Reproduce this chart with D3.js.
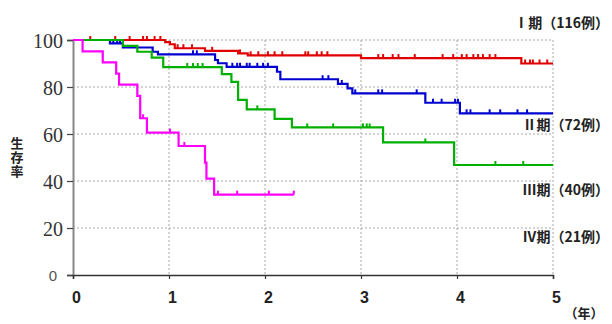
<!DOCTYPE html>
<html><head><meta charset="utf-8">
<script src="https://cdn.jsdelivr.net/npm/d3@7"></script>
<style>
html,body{margin:0;padding:0;background:#fff;}
svg{display:block;}
</style></head>
<body>
<svg id="c" width="612" height="324"></svg>
<script>
// ---- data ----
const stageLabels = ["Ⅰ期（116例）", "Ⅱ期（72例）", "Ⅲ期（40例）", "Ⅳ期（21例）"];
const xTicks = [0, 1, 2, 3, 4, 5];
const yTicks = [0, 20, 40, 60, 80, 100];
const xUnit = "（年）";
const yTitle = "生存率";

// Stage I
const s1Time = [0, 0.96, 1.01, 1.06, 1.375, 1.72, 1.82, 3.0, 4.67];
const s1Surv = [100, 99.1, 98.2, 96.5, 95.4, 94.3, 93.5, 92.3, 90.0];
const s1End = 5.0;
const s1Cens = [0.18, 0.44, 0.59, 0.73, 0.77, 0.85, 0.91, 1.09, 1.15, 1.24, 1.45, 1.74, 1.85, 1.93, 2.03, 2.10, 2.18, 2.42, 2.45, 2.54, 2.59, 2.65, 3.18, 3.23, 3.33, 3.39, 3.56, 3.85, 3.96, 4.05, 4.10, 4.17, 4.22, 4.27, 4.34, 4.40, 4.71, 4.76, 4.79, 4.86, 4.94];

// Stage II
const s2Time = [0, 0.385, 0.52, 0.83, 0.885, 1.48, 1.51, 1.60, 2.125, 2.16, 2.76, 2.86, 2.91, 3.67, 4.03];
const s2Surv = [100, 98.6, 96.8, 95.0, 93.9, 91.5, 90.1, 88.6, 86.5, 83.3, 81.3, 79.4, 77.3, 73.3, 68.8];
const s2End = 5.0;
const s2Cens = [0.42, 0.46, 0.49, 1.25, 1.29, 1.66, 1.71, 1.74, 1.81, 1.84, 1.92, 1.98, 2.03, 2.60, 2.66, 2.80, 2.94, 3.18, 3.22, 3.58, 3.75, 3.84, 3.98, 4.01, 4.10, 4.14, 4.34, 4.45, 4.63, 4.73];

// Stage III
const s3Time = [0, 0.52, 0.67, 0.82, 0.94, 1.55, 1.65, 1.72, 1.81, 2.10, 2.28, 3.23, 3.97];
const s3Surv = [100, 97.5, 95.0, 92.5, 88.5, 85.5, 82.2, 74.5, 70.5, 66.4, 62.8, 56.4, 46.8];
const s3End = 5.0;
const s3Cens = [1.19, 1.25, 1.30, 1.35, 1.92, 2.44, 2.71, 3.02, 3.06, 3.09, 3.67, 4.40, 4.69];

// Stage IV
const s4Time = [0, 0.10, 0.31, 0.45, 0.48, 0.67, 0.70, 0.77, 1.10, 1.375, 1.39, 1.47];
const s4Surv = [100, 95.2, 90.5, 85.7, 81.0, 76.2, 66.7, 60.6, 54.9, 47.8, 41.0, 34.2];
const s4End = 2.30;
const s4Cens = [0.73, 1.01, 1.16, 1.51, 1.71, 2.04, 2.30];

const colors = ["#e00000", "#0000d0", "#00b000", "#ff00ff"];

// ---- drawing ----
const svg = d3.select("#c");
const x = d3.scaleLinear().domain([0, 5]).range([73, 553]);
const y = d3.scaleLinear().domain([0, 100]).range([275, 40]);

// grid
const grid = svg.append("g");
grid.selectAll("line.h").data(yTicks.filter(d => d > 0)).join("line")
  .attr("x1", x(0)).attr("x2", x(5)).attr("y1", d => y(d)).attr("y2", d => y(d))
  .attr("stroke", "#a8a8a8").attr("stroke-width", 1).attr("stroke-dasharray", "2,2");
grid.selectAll("line.v").data(xTicks.filter(d => d > 0)).join("line")
  .attr("x1", d => x(d)).attr("x2", d => x(d)).attr("y1", y(100)).attr("y2", y(0))
  .attr("stroke", "#a8a8a8").attr("stroke-width", 1).attr("stroke-dasharray", "2,2");

// y axis
const yAxis = svg.append("g").attr("transform", `translate(${x(0)},0)`)
  .call(d3.axisLeft(y).tickValues(yTicks).tickSize(6).tickPadding(4).tickFormat(d3.format("d")));
yAxis.select(".domain").attr("stroke", "#888").attr("stroke-width", 2);
yAxis.selectAll(".tick line").attr("stroke", "#444").attr("stroke-width", 1.2);
yAxis.selectAll(".tick text")
  .attr("font-family", "'Liberation Serif', 'Times New Roman', serif")
  .attr("font-size", 20).attr("fill", "#333")
  .attr("dy", "0.36em");
yAxis.selectAll(".tick text").filter(d => d === 0)
  .attr("font-family", "'Liberation Sans', Arial, sans-serif").attr("font-size", 15)
  .attr("font-weight", 300).attr("fill", "#555").attr("x", -16);

// x axis
const xAxis = svg.append("g").attr("transform", `translate(0,${y(0)})`)
  .call(d3.axisBottom(x).tickValues(xTicks).tickSize(4).tickPadding(13).tickFormat(d3.format("d")));
xAxis.select(".domain").attr("stroke", "#333").attr("stroke-width", 1.5);
xAxis.selectAll(".tick line").attr("stroke", "#333").attr("stroke-width", 1.2);
xAxis.selectAll(".tick text")
  .attr("font-family", "'Liberation Sans', Arial, sans-serif")
  .attr("font-size", 16).attr("font-weight", "bold").attr("fill", "#222")
  .attr("x", 3);

svg.append("text").attr("x", 584).attr("y", 318).attr("text-anchor", "middle")
  .attr("font-family", "'Noto Sans CJK JP', sans-serif").attr("font-size", 13)
  .attr("font-weight", "bold").attr("fill", "#222").text(xUnit);

// y title (vertical)
svg.append("text")
  .attr("x", 17).attr("y", 137)
  .style("writing-mode", "vertical-rl").style("text-orientation", "upright")
  .style("letter-spacing", "1px")
  .attr("font-family", "'Noto Sans CJK JP', sans-serif").attr("font-size", 13)
  .attr("font-weight", "bold").attr("fill", "#222").text(yTitle);

// curves
const series = [
  { t: s1Time, s: s1Surv, end: s1End, c: s1Cens },
  { t: s2Time, s: s2Surv, end: s2End, c: s2Cens },
  { t: s3Time, s: s3Surv, end: s3End, c: s3Cens },
  { t: s4Time, s: s4Surv, end: s4End, c: s4Cens }
];
const line = d3.line().x(d => x(d[0])).y(d => y(d[1])).curve(d3.curveStepAfter);
function survAt(sr, t) {
  let v = sr.s[0];
  for (let i = 0; i < sr.t.length; i++) if (sr.t[i] <= t) v = sr.s[i];
  return v;
}
series.forEach((sr, k) => {
  const pts = sr.t.map((t, i) => [t, sr.s[i]]);
  pts.push([sr.end, sr.s[sr.s.length - 1]]);
  const g = svg.append("g");
  g.append("path").attr("d", line(pts)).attr("fill", "none")
    .attr("stroke", colors[k]).attr("stroke-width", 2.2).attr("stroke-linejoin", "miter");
  g.selectAll("line").data(sr.c).join("line")
    .attr("x1", d => x(d)).attr("x2", d => x(d))
    .attr("y1", d => y(survAt(sr, d))).attr("y2", d => y(survAt(sr, d)) - 4)
    .attr("stroke", colors[k]).attr("stroke-width", 2);
});

// stage labels
const labelY = [28, 130, 195, 242];
svg.append("g").selectAll("text").data(stageLabels).join("text")
  .attr("x", 609).attr("y", (d, i) => labelY[i]).attr("text-anchor", "end")
  .attr("font-family", "'Noto Sans CJK JP', sans-serif").attr("font-size", 14)
  .attr("font-weight", "bold").attr("fill", "#222").text(d => d);
</script>
</body></html>
